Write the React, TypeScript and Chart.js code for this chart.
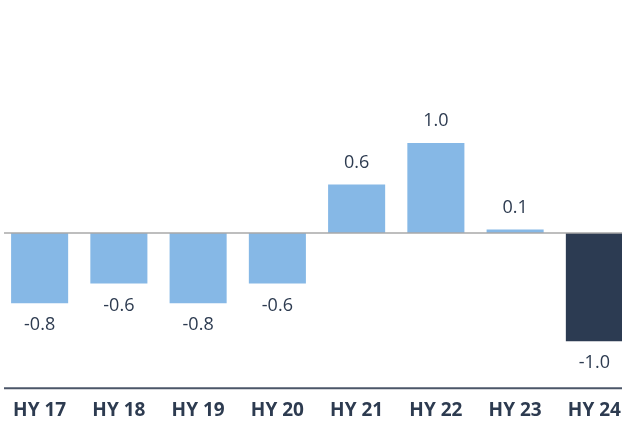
import React, { useEffect, useRef } from "react";
import { Chart, registerables } from "chart.js";

Chart.register(...registerables);

const categories = ["HY 17", "HY 18", "HY 19", "HY 20", "HY 21", "HY 22", "HY 23", "HY 24"];
const values = [-0.78, -0.56, -0.78, -0.56, 0.54, 1.0, 0.04, -1.2];
const valueLabels = ["-0.8", "-0.6", "-0.8", "-0.6", "0.6", "1.0", "0.1", "-1.0"];
const barColors = ["#86b8e6", "#86b8e6", "#86b8e6", "#86b8e6", "#86b8e6", "#86b8e6", "#86b8e6", "#2c3b52"];

const TEXT = "#2d3b50";
const FONT = "'Open Sans', 'Noto Sans', sans-serif";

const linesAndLabels = {
  id: "linesAndLabels",
  afterDatasetsDraw(chart: any) {
    const { ctx, chartArea } = chart;
    const y = chart.scales.y;
    const zero = y.getPixelForValue(0);
    ctx.save();
    ctx.strokeStyle = "#a8a8a8";
    ctx.lineWidth = 1.5;
    ctx.beginPath();
    ctx.moveTo(chartArea.left + 4, zero);
    ctx.lineTo(chartArea.right, zero);
    ctx.stroke();
    ctx.strokeStyle = "#4b5668";
    ctx.lineWidth = 2;
    ctx.beginPath();
    ctx.moveTo(chartArea.left + 4, chartArea.bottom);
    ctx.lineTo(chartArea.right, chartArea.bottom);
    ctx.stroke();
    const meta = chart.getDatasetMeta(0);
    ctx.fillStyle = TEXT;
    ctx.font = `18px ${FONT}`;
    ctx.textAlign = "center";
    ctx.textBaseline = "middle";
    meta.data.forEach((bar: any, i: number) => {
      const v = values[i];
      const ty = v >= 0 ? bar.y - 22 : bar.y + 22;
      ctx.fillText(valueLabels[i], bar.x, ty);
    });
    ctx.restore();
  },
};

export default function App() {
  const ref = useRef<HTMLCanvasElement>(null);
  useEffect(() => {
    document.body.style.margin = "0";
    const chart = new Chart(ref.current!, {
      type: "bar",
      data: {
        labels: categories,
        datasets: [
          {
            data: values,
            backgroundColor: barColors,
            barPercentage: 0.72,
            categoryPercentage: 1,
          },
        ],
      },
      options: {
        responsive: false,
        animation: false,
        devicePixelRatio: 1,
        layout: { padding: { left: 0, right: 0, top: 0, bottom: 6 } },
        plugins: { legend: { display: false }, tooltip: { enabled: false } },
        scales: {
          x: {
            grid: { display: false, drawTicks: false },
            border: { display: false },
            ticks: {
              color: TEXT,
              font: { family: FONT, size: 19, weight: "bold" },
              padding: 11,
              maxRotation: 0,
              autoSkip: false,
            },
          },
          y: {
            display: false,
            min: -1.7222,
            max: 2.5889,
          },
        },
      },
      plugins: [linesAndLabels],
    });
    return () => chart.destroy();
  }, []);
  return (
    <div style={{ width: 622, height: 427, overflow: "hidden", background: "#fff" }}>
      <canvas ref={ref} width={634} height={439} style={{ display: "block" }} />
    </div>
  );
}
